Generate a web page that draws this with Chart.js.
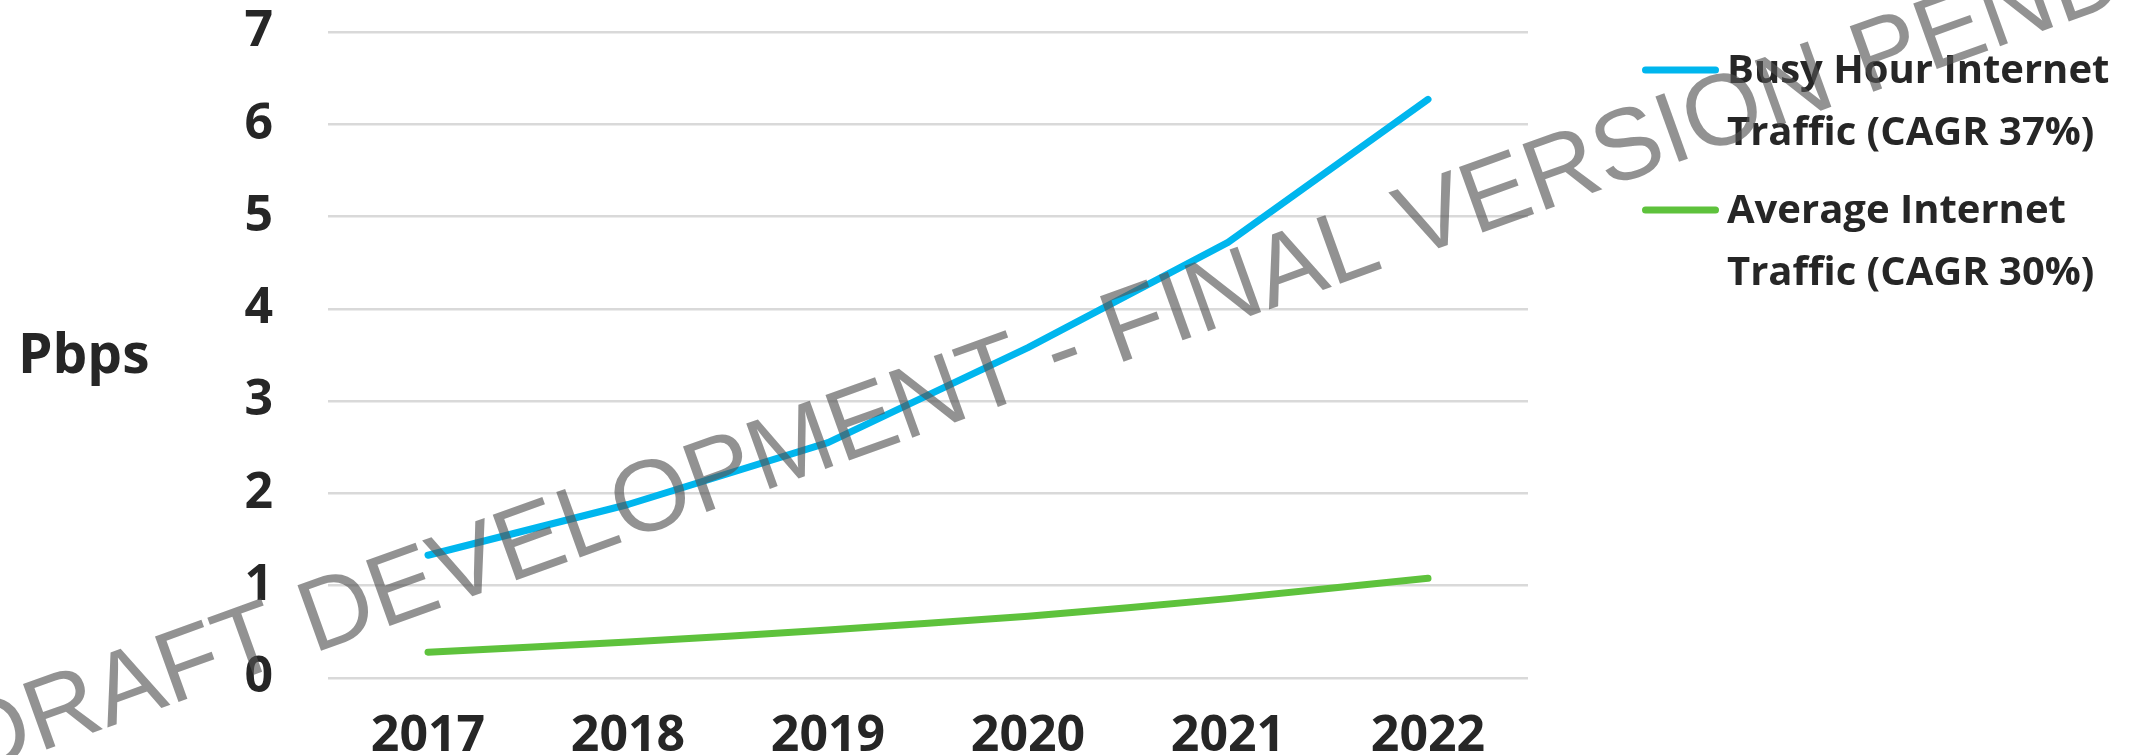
<!DOCTYPE html>
<html>
<head>
<meta charset="utf-8">
<script src="https://cdn.jsdelivr.net/npm/chart.js@4/dist/chart.umd.min.js"></script>
<style>
    html, body { margin: 0; padding: 0; background: #ffffff; }
    #wrap { width: 2147px; height: 755px; }
</style>
</head>
<body>
<div id="wrap"><canvas id="trafficChart" width="2147" height="755"></canvas></div>
<script>
const years = ['2017', '2018', '2019', '2020', '2021', '2022'];
const busyHour = [1.33, 1.88, 2.55, 3.58, 4.72, 6.27];
const average = [0.28, 0.39, 0.52, 0.67, 0.86, 1.08];
const busyLabel = ['Busy Hour Internet', 'Traffic (CAGR 37%)'];
const averageLabel = ['Average Internet', 'Traffic (CAGR 30%)'];
const yTitle = 'Pbps';
const watermark = 'DRAFT DEVELOPMENT - FINAL VERSION PENDING';

const textColor = '#262626';

// legend, y title and the draft stamp are drawn by hand
const extras = {
    id: 'extras',
    afterDraw(chart) {
        const ctx = chart.ctx;
        const area = chart.chartArea;

        ctx.save();
        ctx.fillStyle = textColor;
        ctx.font = 'bold 55px "Open Sans"';
        ctx.textBaseline = 'alphabetic';
        ctx.textAlign = 'left';
        ctx.fillText(yTitle, 18, 373);

        const lx = area.right + 114;
        const tx = area.right + 199;
        const items = [
            { lines: busyLabel, ds: chart.data.datasets[0], y: 70 },
            { lines: averageLabel, ds: chart.data.datasets[1], y: 210 }
        ];
        ctx.font = 'bold 40px "Open Sans"';
        items.forEach(item => {
            ctx.strokeStyle = item.ds.borderColor;
            ctx.lineWidth = 7;
            ctx.lineCap = 'round';
            ctx.beginPath();
            ctx.moveTo(lx + 3.5, item.y);
            ctx.lineTo(lx + 73.5, item.y);
            ctx.stroke();
            item.lines.forEach((line, i) => {
                ctx.fillText(line, tx, item.y + 13 + i * 62);
            });
        });
        ctx.restore();

        ctx.save();
        ctx.translate(-30, 777);
        ctx.rotate(-19.8 * Math.PI / 180);
        ctx.font = '101px "Liberation Sans"';
        ctx.fillStyle = 'rgba(85, 85, 85, 0.64)';
        ctx.textBaseline = 'alphabetic';
        ctx.fillText(watermark, 0, 0);
        ctx.restore();
    }
};

const ctx = document.getElementById('trafficChart').getContext('2d');
const trafficChart = new Chart(ctx, {
    type: 'line',
    data: {
        labels: years,
        datasets: [{
            label: busyLabel.join(' '),
            data: busyHour,
            borderColor: '#00B6EE',
            borderWidth: 7,
            borderCapStyle: 'round',
            borderJoinStyle: 'round',
            pointRadius: 0,
            tension: 0,
            fill: false
        }, {
            label: averageLabel.join(' '),
            data: average,
            borderColor: '#5EC23C',
            borderWidth: 7,
            borderCapStyle: 'round',
            borderJoinStyle: 'round',
            pointRadius: 0,
            tension: 0.2,
            fill: false
        }]
    },
    options: {
        responsive: false,
        animation: false,
        layout: {
            padding: { top: 32, right: 619, bottom: 0, left: 0 }
        },
        plugins: {
            legend: { display: false },
            tooltip: { enabled: false }
        },
        scales: {
            x: {
                offset: true,
                grid: { display: false },
                border: { display: false },
                ticks: {
                    color: textColor,
                    padding: 21,
                    font: { family: 'Open Sans', size: 50, weight: 'bold' }
                },
                afterFit(scale) { scale.height = 77; }
            },
            y: {
                min: 0,
                max: 7,
                grid: {
                    color: '#D9D9D9',
                    lineWidth: 2.5,
                    drawTicks: true,
                    tickLength: 55,
                    tickColor: 'rgba(0,0,0,0)'
                },
                border: { display: false },
                ticks: {
                    stepSize: 1,
                    color: textColor,
                    padding: 0,
                    font: { family: 'Open Sans', size: 50, weight: 'bold' }
                },
                afterFit(scale) { scale.width = 328; }
            }
        }
    },
    plugins: [extras]
});
</script>
</body>
</html>
